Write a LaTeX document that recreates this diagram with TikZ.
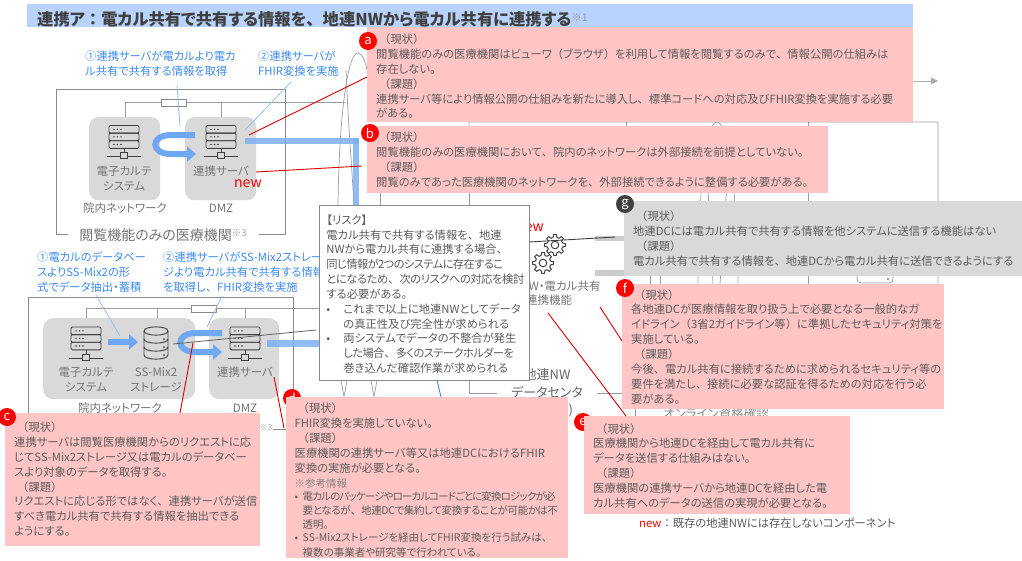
\documentclass[tikz,border=0pt]{standalone}
\usepackage{fontspec}
\setmainfont[RawFeature=+palt]{Noto Sans CJK JP}
\usetikzlibrary{arrows.meta}
\newcommand{\nopalt}{\addfontfeature{RawFeature=-palt}}
\catcode`、=\active \protected\def、{{\nopalt\char"3001\relax}}
\catcode`。=\active \protected\def。{{\nopalt\char"3002\relax}}
\catcode`（=\active \protected\def（{{\nopalt\char"FF08\relax}}
\catcode`）=\active \protected\def）{{\nopalt\char"FF09\relax}}
\catcode`：=\active \protected\def：{{\nopalt\char"FF1A\relax}}
\definecolor{txt}{HTML}{5C5C5C}
\definecolor{pinkc}{HTML}{FFC5C5}
\definecolor{greyc}{HTML}{D9D9D9}
\definecolor{bluet}{HTML}{3E8BEF}
\definecolor{bluea}{HTML}{6FA7F0}
\definecolor{bluel}{HTML}{96BEF0}
\definecolor{redc}{HTML}{FF0000}
\definecolor{linec}{HTML}{8A8A8A}
\definecolor{iconc}{HTML}{404040}
\newcommand{\notefont}{\fontsize{11.3}{14.85}\selectfont}
\newcommand{\hd}[1]{\hspace*{3pt}#1}
\newcommand{\bul}[1]{\makebox[8pt][l]{•}#1}
\newcommand{\tight}[2]{{\addfontfeature{LetterSpace=#1}#2}}
\newcommand{\topgap}[1]{\rule{0pt}{#1pt}}
\tikzset{
  note/.style={anchor=north west,inner xsep=9pt,inner ysep=0pt,align=left,font=\notefont,text=txt},
  pinknote/.style={note,fill=pinkc},
  greynote/.style={note,fill=greyc},
  riskbox/.style={note,fill=white,draw=linec,line width=.8pt,inner xsep=7pt},
  badge/.style={circle,fill=redc,text=white,minimum size=18pt,inner sep=0pt,font=\fontsize{13}{13}\selectfont},
  bluelabel/.style={anchor=north west,inner sep=0pt,align=left,text=bluet,font=\fontsize{11.3}{14.7}\selectfont},
  iconlabel/.style={align=center,text=txt!85,font=\fontsize{11.5}{15}\selectfont,inner sep=0pt},
  hostbox/.style={anchor=north west,fill=greyc,rounded corners=9pt},
  frameline/.style={draw=linec,line width=.8pt},
  bgline/.style={draw=linec!85,line width=.7pt},
  redline/.style={draw=redc!85!black,line width=.9pt},
  thinblue/.style={draw=bluel,line width=.8pt},
  flow/.style={draw=bluea,line width=6pt,-{Triangle[length=9pt,width=15pt]}},
  flowplain/.style={draw=bluea!90,line width=6pt,draw opacity=.85},
  newlabel/.style={text=redc,font=\fontsize{14}{14}\selectfont,inner sep=0pt},
  servericon/.pic={
    \draw[iconc,line width=.9pt,rounded corners=1.2pt] (-15,0) rectangle (15,7.6);
    \draw[iconc,line width=.9pt,rounded corners=1.2pt] (-15,7.6) rectangle (15,15.2);
    \draw[iconc,line width=.9pt,rounded corners=1.2pt] (-15,15.2) rectangle (15,22.8);
    \foreach \yy in {3.8,11.4,19}{\foreach \xx in {-10,-6.5,-3}{\fill[iconc] (\xx,\yy) circle (.8);}}
    \draw[iconc,line width=.9pt] (0,22.8) -- (0,27);
    \draw[iconc,line width=.9pt] (-17,31) -- (17,31);
    \draw[iconc,line width=.9pt,fill=greyc] (-3.5,27) rectangle (3.5,33);
  },
  dbicon/.pic={
    \draw[iconc,line width=.9pt,fill=greyc] (-12,4) -- (-12,28) .. controls (-12,33.5) and (12,33.5) .. (12,28) -- (12,4) .. controls (12,-1.5) and (-12,-1.5) .. (-12,4) -- cycle;
    \draw[iconc,line width=.9pt] (-12,4) .. controls (-12,9.5) and (12,9.5) .. (12,4);
    \draw[iconc,line width=.9pt] (-12,12) .. controls (-12,17.5) and (12,17.5) .. (12,12);
    \draw[iconc,line width=.9pt] (-12,20) .. controls (-12,25.5) and (12,25.5) .. (12,20);
    \foreach \yy in {12,20,28}{\fill[iconc] (8,\yy) circle (1);}
  },
  gearicon/.pic={
    \draw[iconc,line width=1pt,line join=round] (-14:7.8)
      \foreach \a in {0,45,...,315}{ -- (\a-14:7.8) -- (\a-8:10.5) -- (\a+8:10.5) -- (\a+14:7.8)} -- cycle;
    \draw[iconc,line width=1pt] (0,0) circle (3.8);
  },
}
\begin{document}
\begin{tikzpicture}[x=1pt,y=-1pt]
\useasboundingbox (0,0) rectangle (1022,560);
\fill[white] (0,0) rectangle (1022,560);

% ---- background lines of the underlying figure
\draw[bgline] (469,193) -- (469,122) -- (933,122) [rounded corners=1pt] -- (938,122) -- (938,284);
\draw[bgline] (626,122) -- (626,126);
\draw[bgline] (808,122) -- (808,284);
\draw[bgline] (469,193) -- (469,205);
\draw[bgline] (380,193) -- (380,205);
\draw[bgline] (698,284) .. controls (698,220) and (703,122) .. (717,122) .. controls (731,122) and (738,220) .. (738,284);
\draw[bgline] (707,170) -- (713,284);
\draw[bgline] (728,170) -- (720,284);
\draw[bgline] (650,270) -- (650,284);
\draw[bgline] (660,270) -- (660,284);
\draw[bgline,rounded corners=4pt] (857,265) -- (857,283) -- (893,283) -- (893,265);
\fill[iconc] (888,279) circle (.9);
\draw[bgline] (597,393) -- (622,393);
\draw[bgline] (635,405) -- (635,416);
\draw[-{Triangle[length=7pt,width=7pt]},draw=linec!70,line width=.8pt] (905,81) -- (938,81);

% curves near the top of the risk box
\draw[bgline] (338,205) .. controls (339,120) and (347,53) .. (358,53) .. controls (362,53) and (365,60) .. (367,70);
\draw[bgline] (346,70) .. controls (348,120) and (352,170) .. (354,205);
\draw[bgline] (341,380) -- (344,397) -- (347,380);
\draw[bgline] (371,380) -- (374,397) -- (377,380);
\draw[draw=bluet,line width=.9pt] (437,380) -- (441,397);
\draw[bgline] (469,380) -- (469,393) -- (497,393);

% ---- upper institution
\node[anchor=north west,minimum width=229pt,minimum height=145pt,inner sep=0pt,frameline] (frameA) at (56,89) {};
\node[fill=white,anchor=north west,minimum width=191pt,minimum height=28pt,inner sep=0pt] (frameAlabelbg) at (68,220) {};
\node[anchor=center,text=txt!85,inner sep=0pt,font=\fontsize{14}{14}\selectfont] (frameAlabel) at (163,235) {閲覧機能のみの医療機関{\fontsize{9.5}{9.5}\selectfont\color{black!35}\raisebox{3.5pt}{※3}}};
\node[hostbox,minimum width=71pt,minimum height=83pt,inner sep=0pt] (hostA) at (89,117) {};
\node[hostbox,minimum width=71pt,minimum height=83pt,inner sep=0pt] (hostB) at (185,117) {};
\coordinate (busAl) at (125,102);
\coordinate (busAm) at (221,102);
\coordinate (busAr) at (345,102);
\draw[bgline] (hostA.north -| busAl) -- (busAl) -- (busAr);
\draw[bgline] (hostB.north -| busAm) -- (busAm);
\node[anchor=north west,draw=linec,fill=white,line width=.7pt,minimum width=25pt,minimum height=7pt,inner sep=0pt] (fwA) at (161,99) {};
\pic at (124,125.5) {servericon};
\pic at (221,125.5) {servericon};
\node[iconlabel] (lblEmrA) at (124,178.5) {電子カルテ\\システム};
\node[iconlabel] (lblSrvA) at (221,171) {連携サーバ};
\node[newlabel] (newA) at (248,184) {new};
\node[iconlabel] (lblNetA) at (125,208) {院内ネットワーク};
\node[iconlabel] (lblDmzA) at (221,208) {DMZ};
\coordinate (uA1) at (195,135);
\coordinate (uA2) at (196,154);
\draw[flow] (uA1) -- (171,135) .. controls (150,135) and (150,154) .. (171,154) -- (uA2);
\coordinate (longA1) at (245,141);
\coordinate (longA2) at (359,141);
\coordinate (longA3) at (356,138);
\coordinate (longA4) at (356,205);
\draw[flowplain] (longA1) -- (longA2);
\draw[flowplain] (longA3) -- (longA4);

% ---- labels above the upper institution
\node[bluelabel] (lab1) at (85,51) {①連携サーバが電カルより電カ\\ル共有で共有する情報を取得};
\node[bluelabel] (lab2) at (258,51) {②連携サーバが\\FHIR変換を実施};
\coordinate (l1a) at (177,85);
\coordinate (l1b) at (180,126);
\coordinate (l2a) at (291,82);
\coordinate (l2b) at (245,130);
\draw[thinblue] (l1a) -- (l1b);
\draw[thinblue] (l2a) -- (l2b);

% ---- lower institution
\node[anchor=north west,minimum width=265pt,minimum height=132pt,inner sep=0pt,frameline] (frameB) at (28,297) {};
\node[hostbox,minimum width=152pt,minimum height=81pt,inner sep=0pt,rounded corners=10pt] (hostC) at (43,318) {};
\node[hostbox,minimum width=70pt,minimum height=81pt,inner sep=0pt,rounded corners=10pt] (hostD) at (209,318) {};
\coordinate (busBl) at (86,308);
\coordinate (busBm) at (157,308);
\coordinate (busBr) at (245,308);
\coordinate (busBe) at (319,308);
\draw[bgline] (hostC.north -| busBl) -- (busBl) -- (busBe);
\draw[bgline] (hostC.north -| busBm) -- (busBm);
\draw[bgline] (hostD.north -| busBr) -- (busBr);
\node[anchor=north west,draw=linec,fill=white,line width=.7pt,minimum width=25pt,minimum height=7pt,inner sep=0pt] (fwB) at (191,305) {};
\pic at (86,327) {servericon};
\pic at (156,327) {dbicon};
\pic at (245,327) {servericon};
\node[iconlabel] (lblEmrB) at (86,379.5) {電子カルテ\\システム};
\node[iconlabel] (lblSs) at (156,379.5) {SS-Mix2\\ストレージ};
\node[iconlabel] (lblSrvB) at (245,372) {連携サーバ};
\node[iconlabel] (lblNetB) at (120,408) {院内ネットワーク};
\node[iconlabel] (lblDmzB) at (245,408) {DMZ};
\coordinate (arB1) at (108,342);
\coordinate (arB2) at (138,342);
\draw[flow] (arB1) -- (arB2);
\coordinate (uB1) at (222,333);
\coordinate (uB2) at (222,352);
\draw[flow] (uB1) -- (196,333) .. controls (175,333) and (175,352) .. (196,352) -- (uB2);
\coordinate (longB1) at (267,343);
\coordinate (longB2) at (319,343);
\draw[flowplain,line width=7pt] (longB1) -- (longB2);
\coordinate (greyB1) at (173,344);
\coordinate (greyB2) at (316,330);
\draw[draw=linec!70!black,line width=.8pt] (greyB1) -- (greyB2);
\node[fill=white,anchor=north west,minimum width=13pt,minimum height=22pt,inner sep=0pt] (frameBpatch) at (260,420) {};
\node[text=black!35,inner sep=0pt,font=\fontsize{8}{8}\selectfont] (frameBsup) at (266,428) {※3};

% ---- labels above the lower institution
\node[bluelabel] (lab3) at (37,252) {①電カルのデータベー\\スよりSS-Mix2の形\\式でデータ抽出・蓄積};
\node[bluelabel] (lab4) at (163,252) {②連携サーバがSS-Mix2ストレー\\ジより電カル共有で共有する情報\\を取得し、FHIR変換を実施};
\coordinate (l3a) at (96,295);
\coordinate (l3b) at (120,336);
\coordinate (l4a) at (222,296);
\coordinate (l4b) at (207,327);
\draw[thinblue] (l3a) -- (l3b);
\draw[thinblue] (l4a) -- (l4b);

% ---- linkage function and data centre
\pic at (555,245) {gearicon};
\pic at (543,263) {gearicon};
\node[newlabel] (newB) at (530,228) {new};
\node[iconlabel,font=\fontsize{11.5}{14.5}\selectfont] (lblLink) at (549,293) {地連NW・電カル共有\\連携機能};
\node[iconlabel,text=iconc!80,font=\fontsize{13}{17.5}\selectfont] (lblDc) at (547,393) {地連NW\\データセンタ\\(地連DC)};
\node[anchor=north west,fill=black!20,minimum width=30pt,minimum height=5pt,inner sep=0pt] (bandG1) at (595,236) {};
\node[anchor=north west,fill=black!20,minimum width=30pt,minimum height=6pt,inner sep=0pt] (bandG2) at (595,270) {};
\coordinate (gl1) at (529,242);
\coordinate (gl2) at (615,237);
\draw[draw=iconc,line width=.9pt] (gl1) -- (gl2);
\node[text=txt!70,inner sep=0pt,font=\fontsize{12.5}{13}\selectfont] (lblOnl) at (716,414) {オンライン資格確認};

% ---- risk box
\node[riskbox,minimum width=210pt,minimum height=175pt,text width=196pt] (risk) at (319,205) {\topgap{12}【リスク】\\電カル共有で共有する情報を、地連\\NWから電カル共有に連携する場合、\\\tight{-5.5}{同じ情報が2つのシステムに存在するこ}\\\tight{-4}{とになるため、次のリスクへの対応を検討}\\する必要がある。\\\makebox[17pt][l]{•}これまで以上に地連NWとしてデータ\\\hspace*{17pt}の真正性及び完全性が求められる\\\makebox[17pt][l]{•}両システムでデータの不整合が発生\\\hspace*{17pt}\tight{-5.5}{した場合、多くのステークホルダーを}\\\hspace*{17pt}巻き込んだ確認作業が求められる};

% ---- title
\node[anchor=north west,minimum width=886pt,minimum height=23pt,inner sep=0pt,fill={rgb,255:red,185;green,211;blue,255}] (titlebar) at (27,4) {};
\node[anchor=west,inner sep=0pt,text=iconc,font=\fontsize{16.3}{16}\selectfont\bfseries] (title) at (37,19) {連携ア：電カル共有で共有する情報を、地連NWから電カル共有に連携する{\fontsize{10.5}{10.5}\selectfont\mdseries\color{black!40}\raisebox{3.5pt}{※1}}};

% ---- badges that lie behind their boxes
\node[badge] (badgeD) at (292,398) {d};
\node[badge] (badgeE) at (583,422) {e};

% ---- issue boxes
\node[pinknote,minimum width=546pt,minimum height=95pt,text width=528pt] (boxA) at (367,27) {\topgap{13}\hd{（現状）}\\閲覧機能のみの医療機関はビューワ（ブラウザ）を利用して情報を閲覧するのみで、情報公開の仕組みは\\存在しない。\\\hd{（課題）}\\連携サーバ等により情報公開の仕組みを新たに導入し、標準コードへの対応及びFHIR変換を実施する必要\\がある。};
\node[pinknote,minimum width=461pt,minimum height=67pt,text width=443pt] (boxB) at (367,126) {\hd{（現状）}\\閲覧機能のみの医療機関において、院内のネットワークは外部接続を前提としていない。\\\hd{（課題）}\\閲覧のみであった医療機関のネットワークを、外部接続できるように整備する必要がある。};
\node[pinknote,minimum width=255pt,minimum height=133pt,text width=237pt] (boxC) at (5,412.5) {\hd{（現状）}\\連携サーバは閲覧医療機関からのリクエストに応\\じてSS-Mix2ストレージ又は電カルのデータベー\\スより対象のデータを取得する。\\\hd{（課題）}\\リクエストに応じる形ではなく、連携サーバが送信\\すべき電カル共有で共有する情報を抽出できる\\ようにする。};
\node[pinknote,minimum width=282pt,minimum height=161pt,text width=264pt] (boxD) at (285.5,397) {\topgap{15}\hd{（現状）}\\FHIR変換を実施していない。\\\hd{（課題）}\\医療機関の連携サーバ等又は地連DCにおけるFHIR\\変換の実施が必要となる。\\{\fontsize{10.5}{14}\selectfont\color{txt!75}※参考情報}\\\fontsize{10.5}{13.7}\selectfont\bul{\tight{-8}{電カルのパッケージやローカルコードごとに変換ロジックが必}}\\\hspace*{8pt}\tight{-3.5}{要となるが、地連DCで集約して変換することが可能かは不}\\\hspace*{8pt}透明。\\\bul{SS-Mix2ストレージを経由してFHIR変換を行う試みは、}\\\hspace*{8pt}複数の事業者や研究等で行われている。};
\node[pinknote,minimum width=266pt,minimum height=98pt,text width=248pt] (boxE) at (584,415.5) {\topgap{12}\hd{（現状）}\\医療機関から地連DCを経由して電カル共有に\\データを送信する仕組みはない。\\\hd{（課題）}\\医療機関の連携サーバから地連DCを経由した電\\カル共有へのデータの送信の実現が必要となる。};
\node[pinknote,minimum width=322pt,minimum height=125pt,text width=304pt] (boxF) at (622,284) {\hd{（現状）}\\各地連DCが医療情報を取り扱う上で必要となる一般的なガ\\イドライン（3省2ガイドライン等）に準拠したセキュリティ対策を\\実施している。\\\hd{（課題）}\\今後、電カル共有に接続するために求められるセキュリティ等の\\要件を満たし、接続に必要な認証を得るための対応を行う必\\要がある。};
\node[greynote,minimum width=398pt,minimum height=75pt,text width=380pt] (boxG) at (624,201) {\hd{（現状）}\\地連DCには電カル共有で共有する情報を他システムに送信する機能はない\\\hd{（課題）}\\電カル共有で共有する情報を、地連DCから電カル共有に送信できるようにする};

% ---- badges
\node[badge] (badgeA) at (368,41) {a};
\node[badge] (badgeB) at (370,133) {b};
\node[badge] (badgeC) at (7,417) {c};
\node[badge] (badgeF) at (625,288) {f};
\node[badge,fill=iconc] (badgeG) at (625,204) {g};

% ---- red leader lines
\coordinate (ra1) at (249,135);
\coordinate (ra2) at (367,77);
\coordinate (rb1) at (256,172);
\coordinate (rb2) at (362,166);
\coordinate (rc1) at (193,343);
\coordinate (rc2) at (180,413);
\coordinate (rd1) at (274,377);
\coordinate (rd2) at (284,428);
\coordinate (re1) at (548,313);
\coordinate (re2) at (626,416);
\coordinate (rf1) at (600,307);
\coordinate (rf2) at (622,341);
\draw[redline] (ra1) -- (ra2);
\draw[redline] (rb1) -- (rb2);
\draw[redline] (rc1) -- (rc2);
\draw[redline] (rd1) -- (rd2);
\draw[redline] (re1) -- (re2);
\draw[redline] (rf1) -- (rf2);

% ---- legend
\node[anchor=west,inner sep=0pt,font=\fontsize{11.3}{12}\selectfont,text=txt] (legend) at (639,523) {{\color{redc}new}：既存の地連NWには存在しないコンポーネント};
\end{tikzpicture}
\end{document}
